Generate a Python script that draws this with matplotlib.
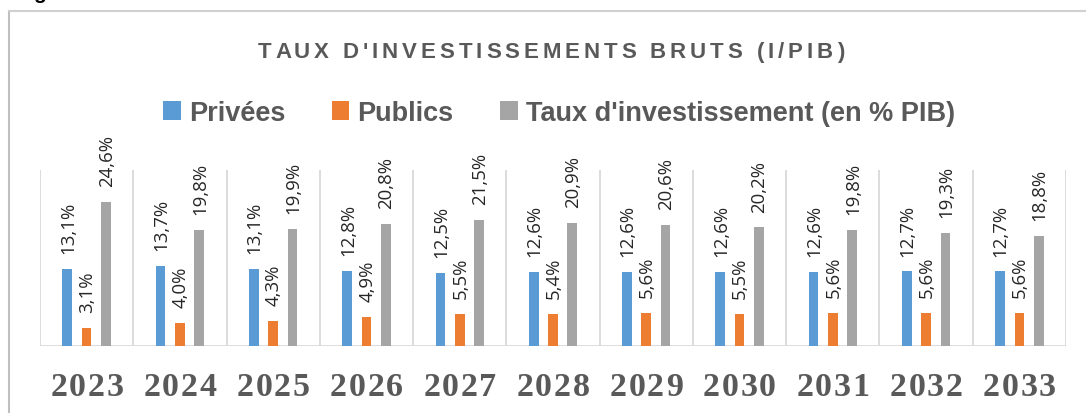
import matplotlib
matplotlib.use("Agg")
import matplotlib.pyplot as plt
from matplotlib.lines import Line2D
from matplotlib.patches import Patch
from matplotlib.font_manager import FontProperties
import numpy as np

years = ["2023", "2024", "2025", "2026", "2027", "2028", "2029", "2030", "2031", "2032", "2033"]
privees = [13.1, 13.7, 13.1, 12.8, 12.5, 12.6, 12.6, 12.6, 12.6, 12.7, 12.7]
publics = [3.1, 4.0, 4.3, 4.9, 5.5, 5.4, 5.6, 5.5, 5.6, 5.6, 5.6]
taux = [24.6, 19.8, 19.9, 20.8, 21.5, 20.9, 20.6, 20.2, 19.8, 19.3, 18.8]
series_names = ["Privées", "Publics", "Taux d'investissement (en % PIB)"]
title = "TAUX D'INVESTISSEMENTS BRUTS (I/PIB)"

colors = ["#5B9BD5", "#ED7D31", "#A5A5A5"]
text_gray = "#595959"
grid_gray = "#D9D9D9"

W, H = 1086, 414
fig = plt.figure(figsize=(W / 100, H / 100), dpi=100)
fig.patch.set_facecolor("white")
renderer = fig.canvas.get_renderer()


def spaced_text(x_left, width, y_base, s, fp, color):
    """Draw s with uniform letter spacing so it spans `width` pixels."""
    bar_w = renderer.get_text_width_height_descent("|", fp, ismath=False)[0]
    adv = [renderer.get_text_width_height_descent(s[:i] + "|", fp, ismath=False)[0] - bar_w
           for i in range(len(s) + 1)]
    sp = (width - adv[-1]) / max(len(s) - 1, 1)
    for i, ch in enumerate(s):
        if ch == " ":
            continue
        fig.text((x_left + adv[i] + i * sp) / W, 1 - y_base / H, ch,
                 fontproperties=fp, color=color, ha="left", va="baseline")


ax = fig.add_axes([40 / W, 1 - 347 / H, 1026 / W, 176 / H])
x = np.arange(len(years))
bw = 0.104
off = 0.207
for i, (vals, c) in enumerate(zip([privees, publics, taux], colors)):
    pos = x + (i - 1) * off
    bars = ax.bar(pos, vals, width=bw, color=c, zorder=3)
    for b, v in zip(bars, vals):
        ax.annotate(f"{v:.1f}%".replace(".", ","),
                    (b.get_x() + b.get_width() / 2, b.get_height()),
                    xytext=(0.5, 11.5), textcoords="offset points",
                    rotation=90, ha="center", va="bottom",
                    fontsize=13.4, family="Open Sans", color="#262626")

ax.set_xlim(-0.5, len(years) - 0.5)
ax.set_ylim(0, 30)
for b in np.arange(-0.5, len(years), 1.0):
    ax.axvline(b, color=grid_gray, lw=1.3, zorder=1)
ax.axhline(0, color=grid_gray, lw=2, zorder=2)
for s in ax.spines.values():
    s.set_visible(False)
ax.set_yticks([])
ax.set_xticks(x)
ax.set_xticklabels([])
ax.tick_params(axis="x", length=0)

# Year labels (letter-spaced, bold serif), centred on each category
fp_year = FontProperties(family="Liberation Serif", weight="bold", size=24.5)
year_w = 73
for xi, yr in zip(x, years):
    xc_px = ax.transData.transform((xi, 0))[0]
    spaced_text(xc_px - year_w / 2, year_w, 396.5, yr, fp_year, text_gray)

# Legend
handles = [Patch(facecolor=c, edgecolor="none") for c in colors]
leg = fig.legend(handles, series_names, loc="center",
                 bbox_to_anchor=(559 / W, 1 - 114 / H), ncol=3, frameon=False,
                 prop=FontProperties(family="Liberation Sans", weight="bold", size=19.5),
                 handlelength=0.66, handleheight=0.66, handletextpad=0.3,
                 columnspacing=1.7, borderpad=0, borderaxespad=0)
for t in leg.get_texts():
    t.set_color(text_gray)

# Title with letter spacing
fp_title = FontProperties(family="Liberation Sans", weight="bold", size=16)
spaced_text(258, 586, 58, title, fp_title, text_gray)

# Outer frame
fig.add_artist(Line2D([9 / W, 9 / W], [0, 1 - 12 / H], color="#BFBFBF", lw=1.5))
fig.add_artist(Line2D([9 / W, 1], [1 - 12 / H, 1 - 12 / H], color="#D0D0D0", lw=1.5))

# Fragment of heading above the chart
fig.text(33 / W, 1 + 1 / H, "g", fontsize=15, family="Liberation Sans",
         weight="bold", color="black", ha="left", va="baseline")

fig.savefig("out.png", dpi=100)
